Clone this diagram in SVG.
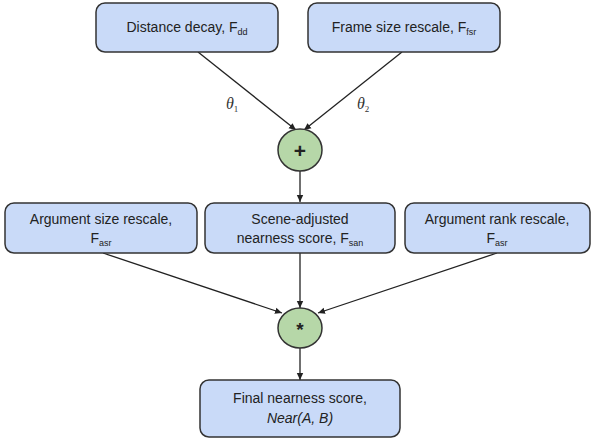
<svg xmlns="http://www.w3.org/2000/svg" width="592" height="441" viewBox="0 0 592 441">
<defs>
<marker id="ah" markerWidth="8" markerHeight="8" refX="7" refY="4" orient="auto" markerUnits="userSpaceOnUse">
<path d="M0,0.8 L7,4 L0,7.2 Z" fill="#222"/>
</marker>
<style>
.box{fill:#c9daf8;stroke:#333;stroke-width:1.5}
.op{fill:#b6d7a8;stroke:#333;stroke-width:1.5}
.t{font-family:"Liberation Sans",Arial,sans-serif;font-size:14px;fill:#222;text-anchor:middle}
.sub{font-size:9px}
.c{stroke:#222;stroke-width:1.3;fill:none;marker-end:url(#ah)}
.th{font-family:"Liberation Serif","Times New Roman",serif;font-style:italic;font-size:16px;fill:#333}
.sym{font-family:"Liberation Sans",Arial,sans-serif;font-weight:bold;fill:#222;text-anchor:middle}
</style>
</defs>
<rect width="592" height="441" fill="#fff"/>
<g id="connectors">
<line class="c" x1="198" y1="52" x2="296" y2="130"/>
<line class="c" x1="402" y1="52" x2="304" y2="130"/>
<line class="c" x1="300" y1="171" x2="300" y2="202"/>
<line class="c" x1="103" y1="253" x2="282" y2="313"/>
<line class="c" x1="300" y1="253" x2="300" y2="308"/>
<line class="c" x1="497" y1="253" x2="318" y2="313"/>
<line class="c" x1="300" y1="348" x2="300" y2="380"/>
</g>
<g id="labels">
<text class="th" x="226" y="109">θ<tspan class="sub" font-style="normal" dy="3">1</tspan></text>
<text class="th" x="357" y="109">θ<tspan class="sub" font-style="normal" dy="3">2</tspan></text>
</g>
<g id="distance-decay">
<rect class="box" x="96" y="3" width="182" height="49" rx="9"/>
<text class="t" x="187" y="32">Distance decay, F<tspan class="sub" dy="3">dd</tspan></text>
</g>
<g id="frame-size">
<rect class="box" x="308" y="3" width="192" height="49" rx="9"/>
<text class="t" x="404" y="32">Frame size rescale, F<tspan class="sub" dy="3">fsr</tspan></text>
</g>
<g id="plus">
<ellipse class="op" cx="300" cy="150" rx="22" ry="21"/>
<text class="sym" x="300" y="157.5" style="font-size:21px">+</text>
</g>
<g id="arg-size">
<rect class="box" x="5" y="203" width="192" height="50" rx="9"/>
<text class="t" x="101" y="224">Argument size rescale,</text>
<text class="t" x="101" y="243">F<tspan class="sub" dy="3">asr</tspan></text>
</g>
<g id="scene-adjusted">
<rect class="box" x="205" y="203" width="190" height="50" rx="9"/>
<text class="t" x="300" y="224">Scene-adjusted</text>
<text class="t" x="300" y="243">nearness score, F<tspan class="sub" dy="3">san</tspan></text>
</g>
<g id="arg-rank">
<rect class="box" x="405" y="203" width="185" height="50" rx="9"/>
<text class="t" x="497" y="224">Argument rank rescale,</text>
<text class="t" x="497" y="243">F<tspan class="sub" dy="3">asr</tspan></text>
</g>
<g id="times">
<ellipse class="op" cx="300" cy="328" rx="22" ry="20"/>
<text class="sym" x="300" y="336" style="font-size:19px">*</text>
</g>
<g id="final">
<rect class="box" x="200" y="380" width="200" height="57" rx="9"/>
<text class="t" x="300" y="403">Final nearness score,</text>
<text class="t" x="300" y="423" font-style="italic">Near(A, B)</text>
</g>
</svg>
